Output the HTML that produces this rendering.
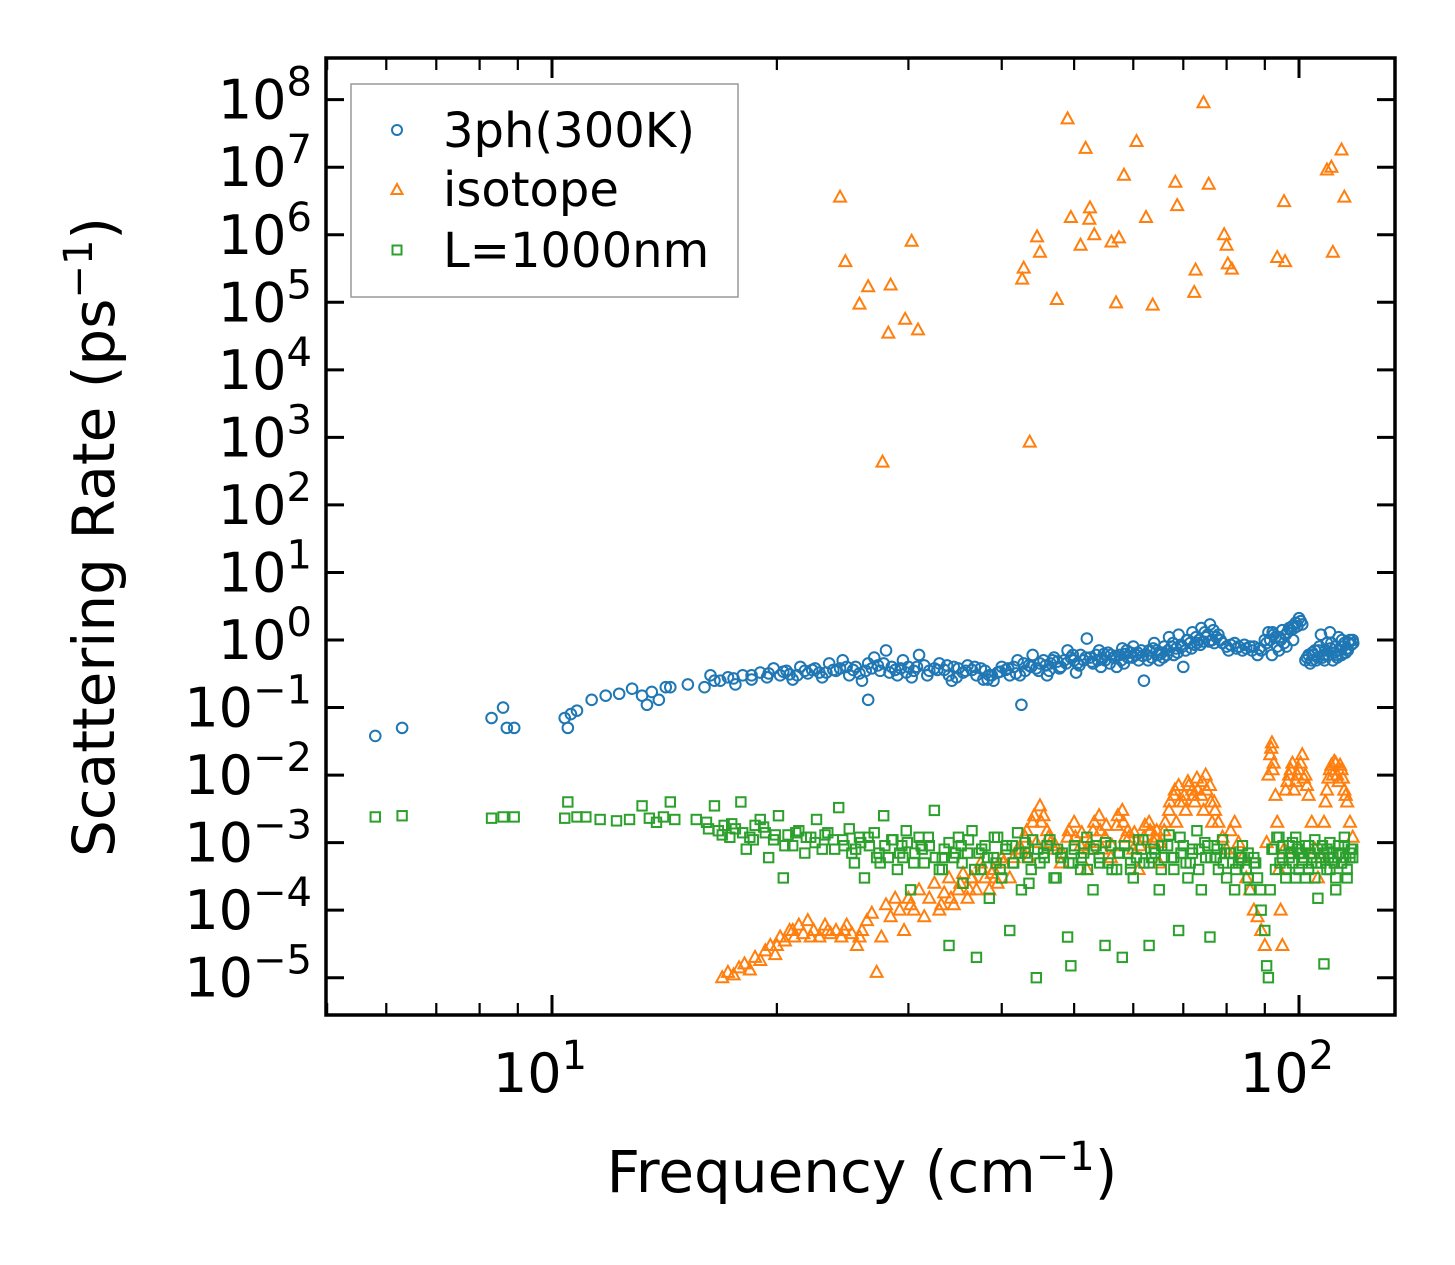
<!DOCTYPE html>
<html><head><meta charset="utf-8"><style>
html,body{margin:0;padding:0;background:#fff;}
svg{display:block;font-family:"DejaVu Sans","Liberation Sans",sans-serif;}
</style></head><body>
<svg id="chart" width="1455" height="1265" viewBox="0 0 1455 1265" xmlns="http://www.w3.org/2000/svg">
<rect width="1455" height="1265" fill="#fff"/>
<g id="marks"></g>
<g id="axes"></g>
<text transform="translate(114,537) rotate(-90)" text-anchor="middle" font-size="58">Scattering Rate (ps<tspan dy="-22" font-size="40">−1</tspan><tspan dy="22">)</tspan></text>
<text x="862" y="1192" text-anchor="middle" font-size="58">Frequency (cm<tspan dy="-22" font-size="40">−1</tspan><tspan dy="22">)</tspan></text>
<g>
<rect x="351" y="84" width="387" height="213" fill="#fff" stroke="#999" stroke-width="1.5"/>
<circle cx="397" cy="130" r="5" fill="none" stroke="#1f77b4" stroke-width="2"/>
<text x="443" y="147" font-size="48">3ph(300K)</text>
<polygon points="397,184 402.5,194 391.5,194" fill="none" stroke="#ff7f0e" stroke-width="2"/>
<text x="443" y="206" font-size="48">isotope</text>
<rect x="392.5" y="245.5" width="9" height="9" fill="none" stroke="#2ca02c" stroke-width="2"/>
<text x="443" y="267" font-size="48">L=1000nm</text>
</g>
</svg>
<script>
const blueF=[5.8,6.3,8.3,8.6,8.7,8.9,10.4,10.5,10.6,10.8,11.3,11.8,12.3,12.8,13.2,13.4,13.6,13.9,14.2,14.4,15.2,16.0,16.3,16.8,17.2,17.6,18.0,18.5,19.0,19.4,19.8,20.2,20.6,21.0,21.5,22,22.5,23,23.5,24,24.5,25,25.5,26,26.5,27,27.5,28,28.5,29,29.5,30,26.5,31,32,33,34,35,36,37,38,39,40,41,42,42.5,43,44,45,46,47,48,49,50,51,52,53,54,55,56,57,58,59,60,61,62,63,64,65,66,67,68,69,70,71,72,73,74,75,76,77,78,80,82,84,86,88,90,91,92,93,94,95,96,97,98,99,100,101,103,104,105,106,107,108,109,110,111,112,113,114,115,116,117,118,
20.4,21.3,22.3,23.3,24.3,25.3,26.3,27.3,28.3,29.3,30.5,31.5,32.5,33.5,34.5,35.5,36.5,37.5,38.5,39.5,40.5,41.5,43.5,44.5,45.5,46.5,47.5,48.5,49.5,50.5,51.5,52.5,53.5,54.5,55.5,56.5,57.5,58.5,59.5,60.5,61.5,62.5,63.5,64.5,65.5,66.5,67.5,68.5,69.5,70.5,71.5,72.5,73.5,74.5,75.5,76.5,77.5,79,81,83,85,87,89,91.5,92.5,93.5,94.5,95.5,96.5,97.5,98.5,99.5,102,103.5,104.5,105.5,106.5,107.5,108.5,109.5,110.5,111.5,112.5,113.5,114.5,115.5,116.5,117.5];
const blueR=[0.038,0.05,0.07,0.1,0.05,0.05,0.07,0.05,0.08,0.09,0.13,0.15,0.16,0.19,0.15,0.11,0.17,0.13,0.2,0.2,0.22,0.2,0.3,0.25,0.28,0.22,0.3,0.26,0.33,0.28,0.38,0.3,0.35,0.26,0.4,0.32,0.38,0.28,0.45,0.35,0.5,0.3,0.4,0.25,0.45,0.55,0.35,0.7,0.4,0.3,0.5,0.4,0.13,0.6,0.35,0.45,0.3,0.38,0.42,0.3,0.35,0.25,0.4,0.3,0.5,0.11,0.35,0.6,0.45,0.3,0.55,0.4,0.7,0.5,0.6,1.05,0.45,0.7,0.5,0.6,0.4,0.75,0.55,0.8,0.5,0.25,0.7,0.9,0.5,0.8,1.1,0.6,1.2,0.4,1.0,1.3,0.9,1.5,1.1,1.7,0.9,1.2,0.8,0.9,0.7,0.8,0.6,1.0,1.3,0.6,1.1,0.7,1.4,1.2,1.5,1.6,1.8,2.1,1.7,0.6,0.5,0.7,0.55,1.2,0.6,0.9,1.3,0.5,0.8,1.1,0.6,0.9,0.75,1.0,1.0,
0.34,0.3,0.36,0.33,0.38,0.36,0.35,0.42,0.33,0.38,0.35,0.42,0.38,0.36,0.4,0.33,0.36,0.38,0.3,0.33,0.36,0.4,0.42,0.38,0.5,0.45,0.48,0.5,0.55,0.45,0.5,0.55,0.6,0.52,0.65,0.55,0.6,0.62,0.65,0.6,0.7,0.6,0.55,0.7,0.65,0.6,0.8,0.75,0.85,0.7,0.9,0.85,1.0,0.95,1.2,1.0,1.1,0.9,0.85,0.8,0.75,0.8,0.7,1.0,1.2,0.8,1.0,0.9,1.3,1.4,1.5,1.6,0.5,0.45,0.6,0.5,0.8,0.55,0.7,0.6,0.9,0.65,0.55,0.7,0.8,0.65,0.9,0.85];
const blueF2=[16.5,17.5,18.5,19.5,20.8,21.8,22.8,23.8,24.8,25.8,26.8,27.8,28.8,29.8,30.8,31.8,32.8,33.8,34.8,35.8,36.8,37.8,38.8,39.8,40.8,41.8,42.8,43.8,44.8,45.8,46.8,47.8,48.8,49.8,50.8,51.8,52.8,53.8,54.8,55.8,56.8,57.8,58.8,59.8,60.8,61.8,62.8,63.8,64.8,65.8,66.8,67.8,68.8,69.8,70.8,71.8,72.8,73.8,74.8,75.8,76.8,78.5,80.5,82.5,84.5,86.5,88.5,90.5,92.2,94.2,96.2,98.2,100.5,102.5,104.2,106.2,108.2,110.2,112.2,114.2,116.2,118.2,30.3,34.3,38.3,42.3,46.3,50.3,54.3,58.3];
const blueR2=[0.25,0.27,0.3,0.32,0.31,0.35,0.33,0.36,0.4,0.32,0.38,0.45,0.36,0.33,0.4,0.3,0.36,0.42,0.28,0.35,0.4,0.26,0.3,0.34,0.38,0.32,0.45,0.4,0.35,0.42,0.5,0.38,0.45,0.6,0.42,0.55,0.48,0.5,0.62,0.45,0.58,0.5,0.7,0.55,0.65,0.58,0.5,0.75,0.6,0.55,0.7,0.9,0.65,0.8,1.0,0.75,1.1,0.85,1.3,0.95,1.4,1.0,0.7,0.75,0.85,0.7,0.75,0.9,1.3,1.1,0.8,1.0,1.9,0.55,0.65,0.7,0.5,0.75,0.6,1.0,0.7,0.9,0.28,0.25,0.26,0.3,0.35,0.33,0.4,0.45];
const isoF=[24.3,24.7,25.8,26.5,28.4,28.2,29.7,30.9,30.3,27.7,43.6,42.8,42.6,44.6,45,47.4,49,49.5,51.8,51,52.5,52.4,53.2,56.1,56.9,57.4,58.3,60.6,62.4,63.7,68.3,68.7,72.4,72.7,74.5,75.7,79.4,80,80.3,81.3,93.5,95.8,95.5,109,110.5,111,114,115,
16.9,17.2,17.5,17.8,18.1,18.4,18.7,19.0,19.3,19.6,19.9,20.2,20.5,20.8,21.1,21.4,21.7,22.0,22.4,22.8,23.2,23.6,24.0,24.4,24.8,25.2,25.6,26.0,26.4,26.8,27.2,27.6,28.0,28.4,28.8,29.2,29.6,30.0,30.5,31,31.5,32,32.5,33,33.5,34,34.5,35,35.5,36,36.5,37,37.5,38,38.5,39,39.5,40,41,42,43,44,45,45.5,46,47,48,49,50,51,52,53,54,55,56,57,58,59,60,61,62,63,64,65,66,67,68,69,70,71,72,73,74,75,76,77,78,79,80,81,82,83,84,85,86,87,88,89,90,90.5,91,91.5,92,92.5,93,93.5,94,94.5,95,95.5,96,97,98,99,100,101,102,103,104,105,106,107,108,109,110,111,112,113,114,115,116,117,118,
20.0,21,22.2,23.4,24.6,25.8,30.2,33.2,36.2,39.2,43.5,44.5,46.5,52.5,54.5,58.5,64.5,68.5,70.5,72.5,74.5,76.5];
const isoR=[3.6e6,4e5,9.4e4,1.7e5,1.8e5,3.5e4,5.6e4,3.9e4,8e5,430,850,3.2e5,2.2e5,9.3e5,5.5e5,1.1e5,5.2e7,1.8e6,1.9e7,7e5,2.5e6,1.7e6,1e6,7.8e5,9.8e4,9e5,7.6e6,2.4e7,1.8e6,9.1e4,6e6,2.7e6,1.4e5,3e5,9e7,5.6e6,1e6,7e5,3.7e5,3.1e5,4.6e5,4e5,3.1e6,9.1e6,1e7,5.5e5,1.8e7,3.6e6,
0.00001,0.000012,0.000011,0.000014,0.000016,0.000013,0.00002,0.000018,0.000025,0.00003,0.000022,0.00004,0.000035,0.00005,0.00004,0.00006,0.000045,0.00007,0.00005,0.00004,0.00006,0.000045,0.00005,0.00004,0.00006,0.000045,0.00003,0.00005,0.00007,0.00009,0.000012,0.00004,0.00012,0.00008,0.00015,0.0001,0.00005,0.00015,0.0001,0.0002,0.00008,0.00015,0.00025,0.0001,0.00018,0.0003,0.00012,0.0002,0.00035,0.00015,0.0003,0.0002,0.0005,0.0003,0.0002,0.0004,0.00025,0.0006,0.0003,0.0008,0.0012,0.002,0.0035,0.0025,0.0015,0.0008,0.0005,0.0012,0.002,0.0009,0.0004,0.0015,0.0025,0.0012,0.0006,0.0018,0.003,0.0015,0.0008,0.0004,0.0012,0.002,0.001,0.0005,0.0015,0.003,0.005,0.007,0.004,0.008,0.006,0.009,0.005,0.01,0.007,0.004,0.002,0.0012,0.0008,0.0015,0.002,0.001,0.0006,0.0003,0.0002,0.0001,0.00008,0.00005,0.00003,0.001,0.01,0.02,0.03,0.015,0.005,0.002,0.0004,0.0001,0.00003,0.0008,0.006,0.01,0.015,0.008,0.012,0.02,0.01,0.005,0.002,0.0008,0.0003,0.0006,0.002,0.006,0.012,0.01,0.015,0.008,0.012,0.006,0.004,0.002,0.0012,
0.00003,0.00005,0.00004,0.00005,0.00005,0.00004,0.00012,0.00012,0.0002,0.0003,0.0006,0.001,0.001,0.001,0.0008,0.0012,0.0015,0.002,0.003,0.004,0.003,0.002];
const isoF2=[34.2,35.2,36.4,37.6,38.8,40.2,41.5,42.5,43.2,44.2,45.2,46.2,47.2,48.2,49.2,50.2,51.2,52.2,53.2,54.2,55.2,56.2,57.2,58.2,59.2,60.2,61.2,62.2,63.2,64.2,65.2,66.2,67.2,68.2,69.2,70.2,71.2,72.2,73.2,74.2,75.2,76.2,77.2,91.8,92.2,96.5,97.5,98.5,99.5,100.5,101.5,102.5,108.5,109.5,110.5,111.5,112.5,113.5,114.5,115.5];
const isoR2=[0.00015,0.00025,0.0003,0.0004,0.00035,0.0005,0.0006,0.0008,0.0015,0.0025,0.002,0.0012,0.0009,0.0007,0.0015,0.0012,0.0014,0.0008,0.002,0.0015,0.0018,0.0009,0.0025,0.002,0.0012,0.0014,0.0009,0.0018,0.0015,0.0012,0.001,0.002,0.004,0.006,0.004,0.005,0.007,0.005,0.006,0.008,0.006,0.004,0.003,0.025,0.012,0.008,0.012,0.006,0.01,0.015,0.009,0.007,0.004,0.009,0.014,0.016,0.01,0.014,0.009,0.005];
const bndF=[5.8,6.3,8.3,8.6,8.9,10.4,10.5,10.8,11.1,11.6,12.2,12.7,13.2,13.5,13.8,14.1,14.4,14.6,15.6,16.1,16.5,16.7,17.0,17.3,17.6,17.9,18.2,18.4,18.7,19.0,19.3,19.5,19.8,20.1,20.4,20.7,21.0,21.4,21.8,22.2,22.6,23.0,23.4,23.8,24.2,24.6,25.0,25.4,25.8,26.2,26.6,27.0,27.4,27.8,28.2,28.6,29.0,29.4,29.8,30.2,30.6,31.0,31.5,32,32.5,33,33.5,34,34.5,35,35.5,36,36.5,37,37.5,38,38.5,39,39.5,40,40.5,41,41.5,42,42.5,43,43.5,44,44.5,45,46,47,48,49,49.5,50,51,52,53,54,55,56,57,58,59,60,61,62,63,64,65,66,67,68,69,70,71,72,73,74,75,76,77,78,79,80,81,82,83,84,85,86,87,88,89,90,90.5,91,91.5,92,93,94,95,96,97,98,99,100,101,102,103,104,105,106,107,108,109,110,111,112,113,114,115,116,117,118,
25.5,27.5,29.5,31.3,33.3,35.3,37.3,39.3,41.3,43.3,45.5,47.5,49.8,51.5,53.5,55.5,57.5,59.5,61.5,63.5,65.5,67.5,69.5,71.5,73.5,75.5,77.5,79.5,81.5,83.5,85.5,87.5,97.5,99.5,101.5,103.5,105.5,107.5,109.5,111.5,113.5,115.5,117.5];
const bndR=[0.0024,0.0025,0.0023,0.0024,0.0024,0.0023,0.004,0.0024,0.0024,0.0022,0.0021,0.0022,0.0035,0.0023,0.002,0.0024,0.004,0.0022,0.0022,0.002,0.0035,0.0015,0.0018,0.0012,0.0016,0.004,0.0008,0.0012,0.0018,0.0022,0.0014,0.0006,0.0011,0.0025,0.0003,0.0013,0.0009,0.0015,0.0007,0.0012,0.0022,0.0008,0.0014,0.0011,0.0033,0.0009,0.0016,0.0005,0.0012,0.0003,0.0009,0.0014,0.0007,0.0025,0.0006,0.0011,0.0004,0.0009,0.0015,0.0002,0.0007,0.0012,0.0005,0.0009,0.003,0.0004,0.0008,0.00003,0.0006,0.0012,0.00025,0.0007,0.0015,0.00002,0.0004,0.0009,0.00015,0.0006,0.0012,0.0003,0.0008,0.00005,0.0005,0.0014,0.0002,0.0007,0.00025,0.0011,0.00001,0.0005,0.0009,0.0003,0.0006,0.00004,0.000015,0.0008,0.0004,0.0012,0.0002,0.0006,0.00003,0.0009,0.0004,0.00002,0.0007,0.0003,0.0011,0.0005,0.00003,0.0008,0.0002,0.0006,0.0013,0.0004,0.00005,0.0009,0.0003,0.0007,0.0015,0.0002,0.0006,0.00004,0.0009,0.0004,0.0011,0.0003,0.0007,0.0002,0.0005,0.0009,0.0004,0.0002,0.0006,0.0003,0.0001,0.00005,0.000015,0.00001,0.0002,0.0008,0.0004,0.0012,0.0006,0.0003,0.0009,0.0005,0.0012,0.0004,0.0007,0.0003,0.0009,0.0005,0.0011,0.00015,0.0006,0.000016,0.0008,0.0004,0.0007,0.0002,0.0009,0.0005,0.0012,0.0003,0.0007,0.0006,
0.0008,0.0005,0.0006,0.0008,0.0006,0.0009,0.0007,0.0005,0.0009,0.0006,0.0007,0.0008,0.0005,0.0007,0.0009,0.0005,0.0007,0.0005,0.0008,0.0006,0.0009,0.0006,0.0007,0.0005,0.0008,0.0009,0.0006,0.0007,0.0005,0.0006,0.0007,0.0005,0.0007,0.0008,0.0006,0.0007,0.0005,0.0009,0.0006,0.0005,0.0007,0.0006,0.0008];
const bndF2=[16.2,16.9,17.4,18.0,18.6,19.2,19.9,20.5,21.2,21.9,22.5,23.2,23.9,24.5,25.2,25.9,26.5,27.2,27.9,28.5,29.2,29.9,30.5,31.2,31.9,32.6,33.3,34.0,34.7,35.4,36.1,36.8,37.6,38.3,39.1,39.8,40.6,41.4,42.2,43.0,43.8,44.7,45.6,46.4,47.3,48.2,49.2,50.1,51.1,52.1,53.1,54.1,55.1,56.2,57.3,58.4,59.5,60.6,61.8,63.0,64.2,65.4,66.7,68.0,69.3,70.6,72.0,73.4,74.8,76.2,77.7,79.2,80.7,82.3,83.9,85.5,87.1,88.8,92.5,93.4,94.3,95.2,96.1,97.0,98.0,99.0,100,101,102,103,104,105,106,107,108,109,110,111,112,113,114,115,116,117,118];
const bndR2=[0.0016,0.0013,0.0019,0.0014,0.0011,0.0017,0.0013,0.0009,0.0014,0.0012,0.001,0.0013,0.0008,0.0011,0.0007,0.001,0.0012,0.0006,0.0009,0.0011,0.0007,0.001,0.0005,0.0009,0.0012,0.0006,0.0004,0.001,0.0007,0.0005,0.0011,0.0004,0.0008,0.0006,0.0012,0.0004,0.0009,0.0005,0.0007,0.001,0.0004,0.0008,0.0006,0.0011,0.0003,0.0007,0.0005,0.0009,0.0006,0.0004,0.0008,0.0005,0.001,0.0004,0.0007,0.0009,0.0004,0.0006,0.0011,0.0005,0.0007,0.0004,0.0009,0.0006,0.0012,0.0005,0.0008,0.0004,0.001,0.0006,0.0008,0.0005,0.0007,0.0004,0.0006,0.0003,0.0005,0.0002,0.0008,0.0012,0.0005,0.0009,0.0004,0.0006,0.001,0.0003,0.0007,0.0005,0.0009,0.0004,0.0006,0.0003,0.0008,0.0005,0.0007,0.0004,0.001,0.0006,0.0003,0.0007,0.0005,0.0009,0.0004,0.0006,0.0008];
const yTickExp=[-5,-4,-3,-2,-1,0,1,2,3,4,5,6,7,8];
const xTickExp=[1,2];
const xMinor=[5,6,7,8,9,20,30,40,50,60,70,80,90];

const NS='http://www.w3.org/2000/svg';
const L=326,R=1395,T=58,B=1015;
function xs(f){return 552+747*(Math.log10(f)-1);}
function ys(r){return 640-67.54*Math.log10(r);}
const marks=document.getElementById('marks');
const axes=document.getElementById('axes');
function mk(tag,attrs,parent){const e=document.createElementNS(NS,tag);for(const k in attrs)e.setAttribute(k,attrs[k]);parent.appendChild(e);return e;}
const gB=mk('g',{},marks);


function drawBlue(F,Rv){F.forEach((f,i)=>{const c=mk('circle',{cx:xs(f),cy:ys(Rv[i]),r:5.3,fill:'none',stroke:'#1f77b4','stroke-width':2},gB);

});}
drawBlue(blueF,blueR);drawBlue(blueF2,blueR2);
const gI=mk('g',{},marks);


function drawIso(F,Rv){F.forEach((f,i)=>{const x=xs(f),y=ys(Rv[i]);const p=mk('polygon',{points:`${x},${y-6.5} ${x+6},${y+4.5} ${x-6},${y+4.5}`,fill:'none',stroke:'#ff7f0e','stroke-width':2},gI);

});}
drawIso(isoF,isoR);drawIso(isoF2,isoR2);
const gG=mk('g',{},marks);


function drawBnd(F,Rv){F.forEach((f,i)=>{const x=xs(f),y=ys(Rv[i]);const s=mk('rect',{x:x-4.7,y:y-4.7,width:9.4,height:9.4,fill:'none',stroke:'#2ca02c','stroke-width':2},gG);

});}
drawBnd(bndF,bndR);drawBnd(bndF2,bndR2);
const fr=mk('rect',{x:L,y:T,width:R-L,height:B-T,fill:'none',stroke:'#000','stroke-width':3.5},axes);


yTickExp.forEach(e=>{const y=ys(Math.pow(10,e));
mk('line',{x1:L,x2:L+18,y1:y,y2:y,stroke:'#000','stroke-width':3},axes);
mk('line',{x1:R,x2:R-18,y1:y,y2:y,stroke:'#000','stroke-width':3},axes);
const t=mk('text',{x:312,y:y+19,'text-anchor':'end','font-size':54},axes);


t.textContent='10';const s=mk('tspan',{dy:-23,'font-size':40},t);s.textContent=(e<0?'−':'')+Math.abs(e);});
xTickExp.forEach(e=>{const x=xs(Math.pow(10,e));
mk('line',{x1:x,x2:x,y1:B,y2:B-20,stroke:'#000','stroke-width':3},axes);
mk('line',{x1:x,x2:x,y1:T,y2:T+20,stroke:'#000','stroke-width':3},axes);
const t=mk('text',{x:x-12,y:1092,'text-anchor':'middle','font-size':54},axes);


t.textContent='10';const s=mk('tspan',{dy:-23,'font-size':40},t);s.textContent=String(e);});
xMinor.forEach(v=>{const x=xs(v);if(x<L||x>R)return;
mk('line',{x1:x,x2:x,y1:B,y2:B-12,stroke:'#000','stroke-width':2.2},axes);
mk('line',{x1:x,x2:x,y1:T,y2:T+12,stroke:'#000','stroke-width':2.2},axes);});
</script>
</body></html>
